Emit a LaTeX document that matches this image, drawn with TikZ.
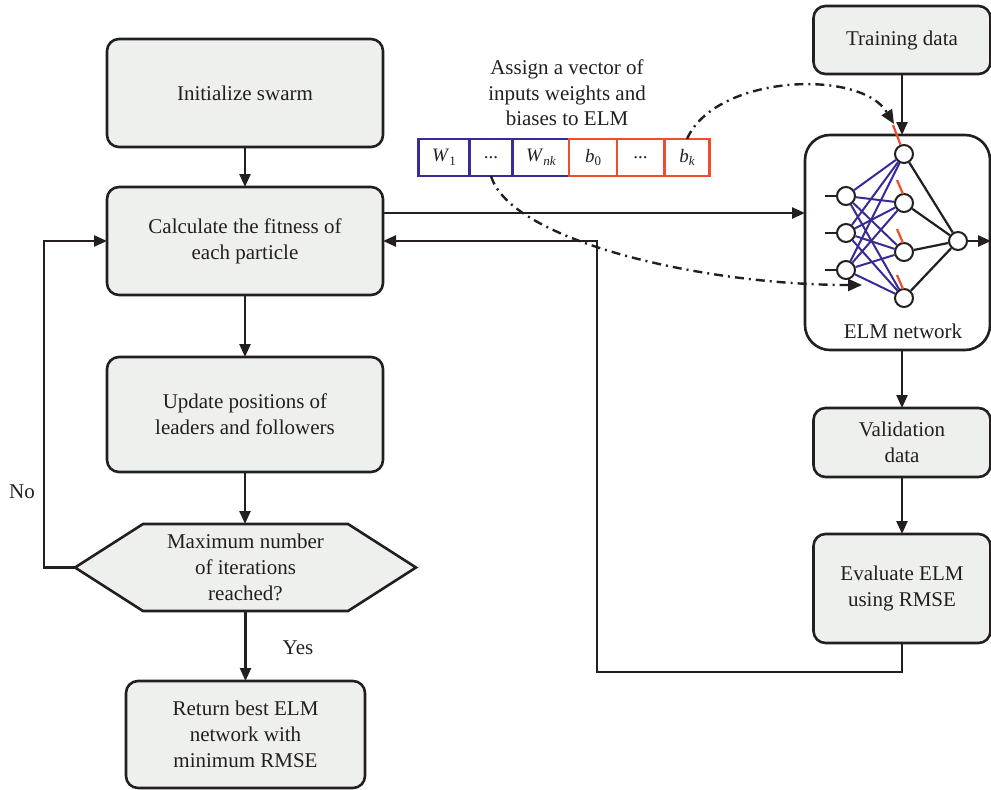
\documentclass[tikz,border=0pt]{standalone}
\usepackage{fontspec}
\setmainfont{Liberation Serif}
\usetikzlibrary{arrows.meta,calc}
\definecolor{lineblack}{RGB}{35,31,32}
\definecolor{boxgray}{RGB}{238,240,238}
\definecolor{elmblue}{RGB}{55,44,150}
\definecolor{elmred}{RGB}{240,78,42}
\newcommand{\vsub}[1]{\raisebox{-0.4ex}{\fontsize{13}{13}\selectfont #1}}
\begin{document}
\begin{tikzpicture}[x=1pt,y=-1pt,
  every node/.style={text=lineblack},
  box/.style={draw=lineblack, fill=boxgray, line width=2.6pt, rounded corners=12pt,
    align=center, inner sep=0pt, outer sep=0pt, font=\fontsize{21}{26}\selectfont},
  arr/.style={draw=lineblack, line width=2.4pt, -{Triangle[length=13pt,width=11pt]}},
  dd/.style={draw=lineblack, line width=2.4pt, dash pattern=on 9pt off 5pt on 2pt off 5pt,
    -{Triangle[length=14pt,width=12pt]}},
  cellb/.style={draw=elmblue, line width=2.5pt, minimum height=37pt, inner sep=0pt, outer sep=0pt,
    font=\fontsize{19}{22}\selectfont},
  cellr/.style={cellb, draw=elmred},
  neuron/.style={circle, draw=lineblack, fill=white, line width=2pt, minimum size=18pt, inner sep=0pt},
  wl/.style={draw=elmblue, line width=2pt},
  bl/.style={draw=elmred, line width=2.2pt},
  ol/.style={draw=lineblack, line width=2.2pt}
]
\useasboundingbox (0,0) rectangle (991,790);

% left column
\node[box, minimum width=276pt, minimum height=108pt] (init) at (245,93) {Initialize swarm};
\node[box, minimum width=276pt, minimum height=108pt] (calc) at (245,241) {Calculate the fitness of\\each particle};
\node[box, minimum width=276pt, minimum height=115pt] (upd) at (245,414.5) {Update positions of\\leaders and followers};
\path[draw=lineblack, fill=boxgray, line width=2.6pt, line join=miter]
  (75,567.5) -- (143,524) -- (348,524) -- (416,567.5) -- (348,611) -- (143,611) -- cycle;
\node[align=center, inner sep=0pt, outer sep=0pt, minimum width=341pt, minimum height=87pt,
  font=\fontsize{21}{26}\selectfont] (hex) at (245.5,567.5) {Maximum number\\of iterations\\reached?};
\node[box, minimum width=239pt, minimum height=107pt] (ret) at (245.5,734.5) {Return best ELM\\network with\\minimum RMSE};

\node[font=\fontsize{21}{26}\selectfont] (no) at (22,492) {No};
\node[font=\fontsize{21}{26}\selectfont] (yes) at (298,648) {Yes};

\draw[arr] (init) -- (calc);
\draw[arr] (calc) -- (upd);
\draw[arr] (upd) -- (upd |- hex.north);
\draw[arr] (hex.south) -- (hex.south |- ret.north);
\coordinate (nocorner) at (44,567.5);
\draw[arr] (hex.west) -- (nocorner) |- (calc.west);

% right column
\node[box, minimum width=177pt, minimum height=68pt] (trn) at (902,40) {Training data};
\node[box, rounded corners=25pt, fill=white, minimum width=185pt, minimum height=215pt] (elm) at (897.5,242.5) {};
\node[box, minimum width=177pt, minimum height=69pt] (val) at (902,442.5) {Validation\\data};
\node[box, minimum width=177pt, minimum height=109pt] (eva) at (902,588.5) {Evaluate ELM\\using RMSE};
\node[font=\fontsize{21}{26}\selectfont] (elmlabel) at (903,331) {ELM network};

\draw[arr] (trn.south) -- (trn.south |- elm.north);
\draw[arr] (val.north |- elm.south) -- (val.north);
\draw[arr] (val) -- (eva);
\coordinate (y213) at (0,213);
\draw[arr] (calc.east |- y213) -- (elm.west |- y213);
\coordinate (fb1) at (902,672);
\coordinate (fb2) at (597,672);
\coordinate (fb3) at (597,241);
\draw[arr] (eva.south) -- (fb1) -- (fb2) -- (fb3) -- (calc.east);

% network
\node[neuron] (i1) at (846,196) {};
\node[neuron] (i2) at (846,233) {};
\node[neuron] (i3) at (846,270) {};
\node[neuron] (h1) at (904,154) {};
\node[neuron] (h2) at (904,203) {};
\node[neuron] (h3) at (904,252) {};
\node[neuron] (h4) at (904,298) {};
\node[neuron] (o) at (958,241) {};
\foreach \a in {1,2,3}{
  \coordinate (in\a) at ($(i\a)+(-21,0)$);
  \draw[ol] (in\a) -- (i\a);
  \foreach \b in {1,2,3,4}{ \draw[wl] (i\a) -- (h\b); }
}
\foreach \b in {1,2,3,4}{ \draw[ol] (h\b) -- (o); }
\coordinate (oend) at (991,241);
\draw[arr] (o) -- (oend);
\coordinate (r1a) at (893,125);
\draw[bl] (r1a) -- (h1);
\foreach \b in {2,3,4}{
  \coordinate (r\b a) at ($(h\b)+(-7,-23)$);
  \coordinate (r\b b) at ($(h\b)+(-1,-9)$);
  \draw[bl] (r\b a) -- (r\b b);
}

% vector
\node[align=center, font=\fontsize{21}{25.5}\selectfont, inner sep=0pt] (title) at (567,93)
  {Assign a vector of\\inputs weights and\\biases to ELM};
\node[cellb, minimum width=51pt] (c1) at (444,157.5) {\textit{W}\vsub{1}};
\node[cellb, minimum width=43pt] (c2) at (491,157.5) {...};
\node[cellb, minimum width=56pt] (c3) at (541,157.5) {\textit{W}\vsub{\textit{nk}}};
\node[cellr, minimum width=48pt] (c4) at (593,157.5) {\textit{b}\vsub{0}};
\node[cellr, minimum width=47pt] (c5) at (640.5,157.5) {...};
\node[cellr, minimum width=45pt] (c6) at (687,157.5) {\textit{b}\vsub{\textit{k}}};

% dash-dot mapping arrows
\coordinate (t1) at (894,124);
\draw[dd] (c6.north) .. controls (715,75) and (860,68) .. (t1);
\coordinate (t2) at (862,285);
\draw[dd] (c2.south) .. controls (510,240) and (700,285) .. (t2);
\end{tikzpicture}
\end{document}
